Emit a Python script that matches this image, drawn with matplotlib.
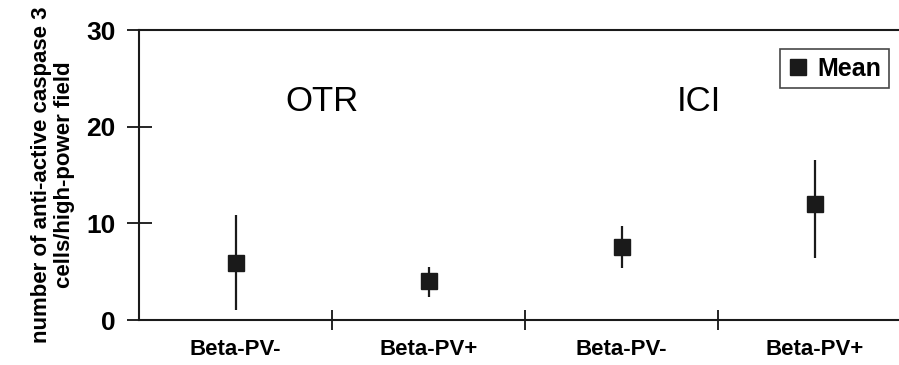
import matplotlib.pyplot as plt
import numpy as np
from matplotlib.lines import Line2D

groups = ["Beta-PV-", "Beta-PV+", "Beta-PV-", "Beta-PV+"]
means = [5.9, 4.0, 7.6, 12.0]
upper = [10.9, 5.5, 9.7, 16.6]
lower = [1.0, 2.4, 5.4, 6.4]

plt.rcParams['font.family'] = ['Liberation Sans', 'DejaVu Sans']

fig = plt.figure(figsize=(8.99, 3.65), dpi=100)
ax = fig.add_axes([139/899, 45/365, 760/899, 290/365])

x = np.arange(len(means)) + 0.5
yerr = [np.array(means) - np.array(lower), np.array(upper) - np.array(means)]
ax.errorbar(x, means, yerr=yerr, fmt='s', color='#1a1a1a', ms=11,
            elinewidth=1.6, capsize=0)

ax.set_xlim(0, 760/193)
ax.set_ylim(0, 30)
ax.set_yticks([0, 10, 20, 30])
ax.set_yticklabels(['0', '10', '20', '30'], fontsize=19, fontweight='bold')
ax.tick_params(axis='y', direction='inout', length=18, width=1.2, pad=8)

ax.set_xticks([1, 2, 3])
ax.set_xticklabels([])
ax.tick_params(axis='x', which='major', direction='inout', length=14, width=1.2)
ax.set_xticks(x, minor=True)
ax.set_xticklabels(groups, minor=True, fontsize=16, fontweight='bold')
ax.tick_params(axis='x', which='minor', length=0, pad=14)

ax.spines['right'].set_visible(False)
for s in ['left', 'bottom', 'top']:
    ax.spines[s].set_linewidth(1.5)
    ax.spines[s].set_color('#1a1a1a')

ax.text(0.95, 22.6, 'OTR', fontsize=25, ha='center', va='center')
ax.text(2.9, 22.6, 'ICI', fontsize=25, ha='center', va='center')

ax.set_ylabel('number of anti-active caspase 3\ncells/high-power field',
              fontsize=16, fontweight='bold', labelpad=8, linespacing=1.15)

handle = Line2D([], [], marker='s', ls='none', color='#1a1a1a', ms=11)
leg = ax.legend([handle], ['Mean'], loc='upper right',
                bbox_to_anchor=(750/760, 1 - 19/290),
                frameon=True, fancybox=False, handlelength=0.8,
                handletextpad=0.4, borderpad=0.3, borderaxespad=0,
                prop={'weight': 'bold', 'size': 18})
leg.get_frame().set_edgecolor('#1a1a1a')
leg.get_frame().set_linewidth(1.2)

fig.savefig('out.png', dpi=100)
